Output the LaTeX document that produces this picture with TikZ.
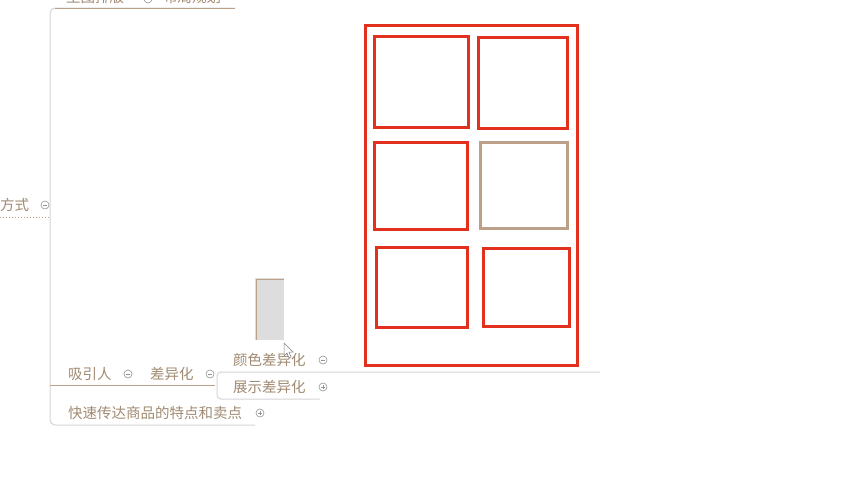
\documentclass[tikz,border=0pt]{standalone}
\usepackage{fontspec}
\newfontfamily\cjk{Noto Sans CJK SC}
\definecolor{tbrown}{HTML}{A08A72}
\definecolor{lbrown}{HTML}{BCA088}
\definecolor{lgray}{HTML}{D4D4D4}
\definecolor{bred}{HTML}{E2301F}
\begin{document}
\begin{tikzpicture}[x=1pt,y=-1pt,
  lab/.style={font=\cjk\fontsize{14.5}{14.5}\selectfont, text=tbrown, inner sep=0pt, anchor=west},
  redbox/.style={draw=bred, line width=3pt},
  brnbox/.style={draw=lbrown, line width=3pt},
  shadow/.style={draw=lbrown!70, line width=1.2pt},
  icon/.style={circle, draw=lgray!70!black, line width=0.6pt, minimum size=8pt, inner sep=0pt}]
\useasboundingbox (0,0) rectangle (844,480);
\begin{scope}
\clip (0,0) rectangle (844,480);
% top clipped texts
\node[lab] (t1) at (66,-3) {主图排版};
\node[icon] (ti) at (148,-1) {};
\node[lab] (t2) at (163,-3) {布局规划};
% tree lines
\draw[lgray, line width=1pt, rounded corners=5pt] (235,8) -- (50,8) -- (50,425) -- (255,425);
\draw[lbrown, line width=1pt] (55,8) -- (235,8);
\draw[lbrown, line width=1pt, dotted] (0,217) -- (50,217);
\draw[lbrown, line width=1pt] (50,385) -- (215,385);
\draw[lgray, line width=1pt, rounded corners=4pt] (600,372) -- (217,372) -- (217,399) -- (320,399);
% labels
\node[lab] (fs) at (0,205) {方式};
\node[icon] (fsi) at (45,205) {}; \draw[lgray!70!black, line width=0.6pt] ([xshift=-2pt]fsi.center) -- ([xshift=2pt]fsi.center);
\node[lab] (xyr) at (68,374) {吸引人};
\node[icon] (xyri) at (128,374) {}; \draw[lgray!70!black, line width=0.6pt] ([xshift=-2pt]xyri.center) -- ([xshift=2pt]xyri.center);
\node[lab] (cyh) at (150,374) {差异化};
\node[icon] (cyhi) at (210,374) {}; \draw[lgray!70!black, line width=0.6pt] ([xshift=-2pt]cyhi.center) -- ([xshift=2pt]cyhi.center);
\node[lab] (ys) at (233,360) {颜色差异化};
\node[icon] (ysi) at (323,360) {}; \draw[lgray!70!black, line width=0.6pt] ([xshift=-2pt]ysi.center) -- ([xshift=2pt]ysi.center);
\node[lab] (zs) at (233,387) {展示差异化};
\node[icon] (zsi) at (323,387) {}; \draw[lgray!70!black, line width=0.6pt] ([xshift=-2pt]zsi.center) -- ([xshift=2pt]zsi.center) ([yshift=-2pt]zsi.center) -- ([yshift=2pt]zsi.center);
\node[lab] (ks) at (68,413) {快速传达商品的特点和卖点};
\node[icon] (ksi) at (260,413) {}; \draw[lgray!70!black, line width=0.6pt] ([xshift=-2pt]ksi.center) -- ([xshift=2pt]ksi.center) ([yshift=-2pt]ksi.center) -- ([yshift=2pt]ksi.center);
% gray drag rectangle
\fill[lgray!80] (255,278) rectangle (284,340);
\draw[lbrown, line width=1pt] (256,340) -- (256,279) -- (284,279);
% cursor
\draw[gray, fill=white, line width=0.5pt] (284,343) -- (284,356) -- (287,353) -- (289,358) -- (291,357) -- (289,352) -- (293,352) -- cycle;
% layout boxes
\draw[shadow] (366.5,26.5) rectangle (578,366.5);
\draw[redbox] (365,25) rectangle (577,365);
\draw[shadow] (375,37) rectangle (469,128);
\draw[redbox] (374,36) rectangle (468,127);
\draw[shadow] (479,38) rectangle (568,129);
\draw[redbox] (478,37) rectangle (567,128);
\draw[shadow] (375,143) rectangle (468,230);
\draw[redbox] (374,142) rectangle (467,229);
\draw[brnbox] (480,142) rectangle (567,228);
\draw[shadow] (377,248) rectangle (468,328);
\draw[redbox] (376,247) rectangle (467,327);
\draw[shadow] (484,249) rectangle (570,327);
\draw[redbox] (483,248) rectangle (569,326);
\end{scope}
\end{tikzpicture}
\end{document}
